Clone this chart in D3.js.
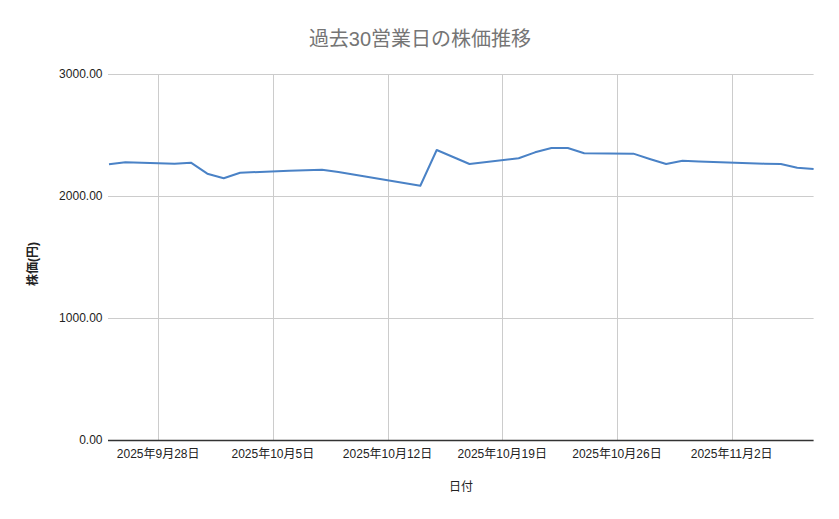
<!DOCTYPE html>
<html>
<head>
<meta charset="utf-8">
<script src="https://cdn.jsdelivr.net/npm/d3@7"></script>
<style>
  html, body { margin: 0; padding: 0; background: #fff; }
  svg { display: block; }
  text { font-family: "Liberation Sans", Arial, "Noto Sans CJK JP", sans-serif; }
</style>
</head>
<body>
<svg id="chart" width="839" height="519"></svg>
<script>
const dates = ["2025-09-25","2025-09-26","2025-09-29","2025-09-30","2025-10-01","2025-10-02","2025-10-03",
  "2025-10-06","2025-10-07","2025-10-08","2025-10-09","2025-10-10","2025-10-14","2025-10-15","2025-10-16",
  "2025-10-17","2025-10-20","2025-10-21","2025-10-22","2025-10-23","2025-10-24","2025-10-27","2025-10-28",
  "2025-10-29","2025-10-30","2025-10-31","2025-11-04","2025-11-05","2025-11-06","2025-11-07"];
const prices = [2260,2276,2265,2273,2183,2145,2191,
  2207,2211,2216,2197,2175,2084,2377,2320,
  2262,2309,2358,2393,2393,2350,2347,2303,
  2262,2289,2283,2265,2262,2232,2221];
const xTickDates = ["2025-09-28","2025-10-05","2025-10-12","2025-10-19","2025-10-26","2025-11-02"];
const yTicks = [0,1000,2000,3000];
const xDomain = ["2025-09-25","2025-11-07"];
const title = "過去30営業日の株価推移";
const xTitle = "日付";
const yTitle = "株価(円)";

(function () {
const parse = d3.timeParse("%Y-%m-%d");
const data = dates.map((d,i) => ({date: parse(d), value: prices[i]}));

const svg = d3.select("#chart");
const pLeft = 109, pRight = 813.6, pTop = 74, pBottom = 440;

const x = d3.scaleTime().domain(xDomain.map(parse)).range([pLeft, pRight]);
const y = d3.scaleLinear().domain([0, 3000]).range([pBottom, pTop]);

// horizontal gridlines
svg.append("g").selectAll("line").data(yTicks.filter(v => v > 0)).join("line")
  .attr("x1", 108).attr("x2", pRight)
  .attr("y1", d => Math.round(y(d)) + 0.5).attr("y2", d => Math.round(y(d)) + 0.5)
  .attr("stroke", "#cccccc").attr("stroke-width", 1);

// vertical gridlines
svg.append("g").selectAll("line").data(xTickDates.map(parse)).join("line")
  .attr("x1", d => Math.round(x(d)) + 0.5).attr("x2", d => Math.round(x(d)) + 0.5)
  .attr("y1", pTop).attr("y2", pBottom)
  .attr("stroke", "#cccccc").attr("stroke-width", 1);

// y tick labels
svg.append("g").selectAll("text").data(yTicks).join("text")
  .attr("x", 102.5).attr("y", d => y(d))
  .attr("dy", "0.35em")
  .attr("text-anchor", "end")
  .attr("font-size", 12)
  .attr("fill", "#222")
  .text(d => d3.format(".2f")(d));

// x tick labels
const fmt = d3.timeFormat("%Y年%-m月%-d日");
svg.append("g").selectAll("text").data(xTickDates.map(parse)).join("text")
  .attr("x", d => x(d)).attr("y", 454)
  .attr("dy", "0.35em")
  .attr("text-anchor", "middle")
  .attr("font-size", 12)
  .attr("fill", "#222")
  .text(d => fmt(d));

// baseline
svg.append("line")
  .attr("x1", 108).attr("x2", pRight)
  .attr("y1", pBottom + 0.5).attr("y2", pBottom + 0.5)
  .attr("stroke", "#333").attr("stroke-width", 1.3);

// line
const line = d3.line().x(d => x(d.date)).y(d => y(d.value));
svg.append("path").datum(data)
  .attr("d", line)
  .attr("fill", "none")
  .attr("stroke", "#4a82c6")
  .attr("stroke-width", 2)
  .attr("stroke-linejoin", "round");

// title
svg.append("text")
  .attr("x", 420).attr("y", 39)
  .attr("dy", "0.35em")
  .attr("text-anchor", "middle")
  .attr("font-size", 20)
  .attr("fill", "#757575")
  .text(title);

// x title
svg.append("text")
  .attr("x", 461).attr("y", 487)
  .attr("dy", "0.35em")
  .attr("text-anchor", "middle")
  .attr("font-size", 12)
  .attr("fill", "#222")
  .text(xTitle);

// y title
svg.append("text")
  .attr("transform", "translate(33,264) rotate(-90)")
  .attr("dy", "0.35em")
  .attr("text-anchor", "middle")
  .attr("font-size", 12)
  .attr("font-weight", "bold")
  .attr("fill", "#222")
  .text(yTitle);
})();
</script>
</body>
</html>
